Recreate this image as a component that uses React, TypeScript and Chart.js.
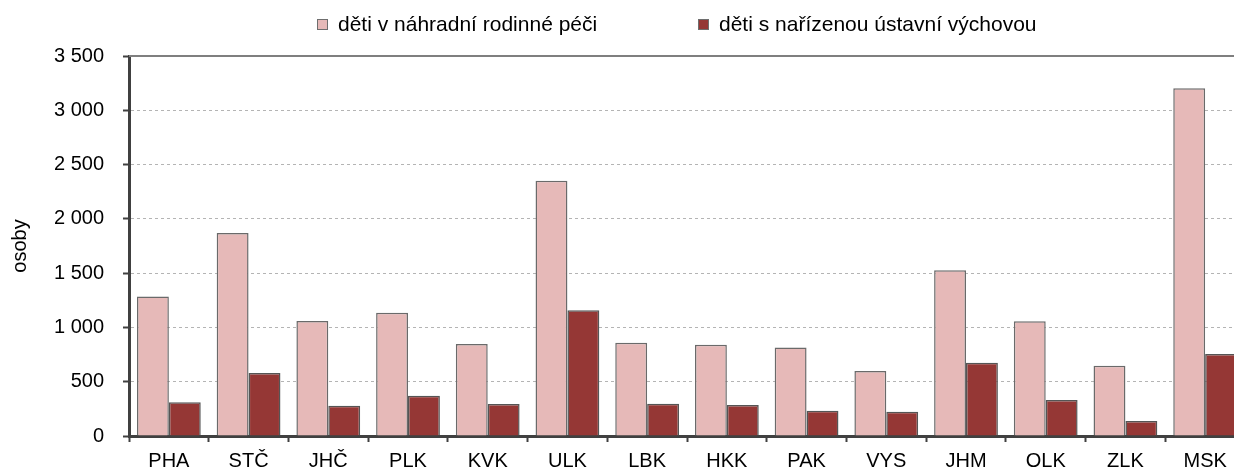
import React, { useEffect, useRef } from "react";
import { Chart, registerables } from "chart.js";

Chart.register(...registerables);

const categories = ["PHA", "STČ", "JHČ", "PLK", "KVK", "ULK", "LBK", "HKK", "PAK", "VYS", "JHM", "OLK", "ZLK", "MSK"];
const seriesNames = ["děti v náhradní rodinné péči", "děti s nařízenou ústavní výchovou"];
const fosterCare = [1285, 1870, 1060, 1136, 847, 2352, 860, 841, 814, 599, 1526, 1056, 648, 3202];
const institutionalCare = [310, 580, 279, 371, 295, 1158, 298, 286, 233, 224, 675, 332, 138, 755];
const yAxisTitle = "osoby";
const yMin = 0;
const yMax = 3500;
const yStep = 500;

const PINK = "#e6b9b8";
const DARK = "#953735";
const FONT = "'Liberation Sans', Arial, sans-serif";

const fmt = (v: number) => String(v).replace(/\B(?=(\d{3})+(?!\d))/g, " ");

const topLine = {
  id: "topLine",
  afterDraw(chart: any) {
    const { ctx, chartArea } = chart;
    ctx.save();
    ctx.strokeStyle = "#7f7f7f";
    ctx.lineWidth = 2;
    ctx.beginPath();
    ctx.moveTo(chartArea.left, chartArea.top);
    ctx.lineTo(chartArea.right + 10, chartArea.top);
    ctx.stroke();
    ctx.restore();
  },
};

export default function App() {
  const ref = useRef<HTMLCanvasElement>(null);
  useEffect(() => {
    const chart = new Chart(ref.current!, {
      type: "bar",
      data: {
        labels: categories,
        datasets: [
          { label: seriesNames[0], data: fosterCare, backgroundColor: PINK, borderColor: "#6a6a6a", borderWidth: 1.5 },
          { label: seriesNames[1], data: institutionalCare, backgroundColor: DARK, borderColor: "#555555", borderWidth: 1.5 },
        ],
      },
      options: {
        responsive: false,
        animation: false,
        devicePixelRatio: 1,
        layout: { padding: { top: 56, right: 5, left: 0, bottom: 0 } },
        datasets: { bar: { categoryPercentage: 0.8, barPercentage: 1.0 } },
        plugins: { legend: { display: false }, tooltip: { enabled: false } },
        scales: {
          x: {
            grid: { display: true, drawOnChartArea: false, drawTicks: true, tickLength: 6, tickColor: "#404040", tickWidth: 2, offset: true },
            border: { display: true, color: "#404040", width: 3 },
            ticks: { color: "#000", font: { family: FONT, size: 20 }, padding: 7, maxRotation: 0, autoSkip: false },
            afterFit: (s: any) => { s.height = 32; },
          },
          y: {
            min: yMin,
            max: yMax,
            ticks: { stepSize: yStep, color: "#000", font: { family: FONT, size: 20 }, padding: 19, callback: (v: any) => fmt(Number(v)) },
            grid: {
              color: (c: any) => (c.tick && c.tick.value === yMax ? "rgba(0,0,0,0)" : "#b4b4b4"),
              lineWidth: 1,
              drawTicks: true,
              tickLength: 6,
              tickColor: "#404040",
              tickWidth: 2,
            },
            border: { display: true, color: "#404040", width: 3, dash: [3, 3] },
            title: { display: true, text: yAxisTitle, color: "#000", font: { family: FONT, size: 20 }, padding: { top: 8, bottom: 0 } },
            afterFit: (s: any) => { s.width = 129; },
          },
        },
      },
      plugins: [topLine],
    });
    return () => chart.destroy();
  }, []);

  const legendItem = (left: number, color: string, text: string) => (
    <div style={{ position: "absolute", left, top: 13, height: 22, display: "flex", alignItems: "center" }}>
      <span style={{ display: "inline-block", width: 9, height: 9, background: color, border: "1px solid #6e6e6e", marginRight: 10 }} />
      <span style={{ fontFamily: FONT, fontSize: 21, lineHeight: "22px", color: "#000", whiteSpace: "nowrap" }}>{text}</span>
    </div>
  );

  return (
    <div style={{ position: "fixed", left: 0, top: 0, width: 1234, height: 468, overflow: "hidden", background: "#fff" }}>
      <canvas ref={ref} width={1250} height={468} style={{ position: "absolute", left: 0, top: 0, width: 1250, height: 468 }} />
      {legendItem(317, PINK, seriesNames[0])}
      {legendItem(698, DARK, seriesNames[1])}
    </div>
  );
}
